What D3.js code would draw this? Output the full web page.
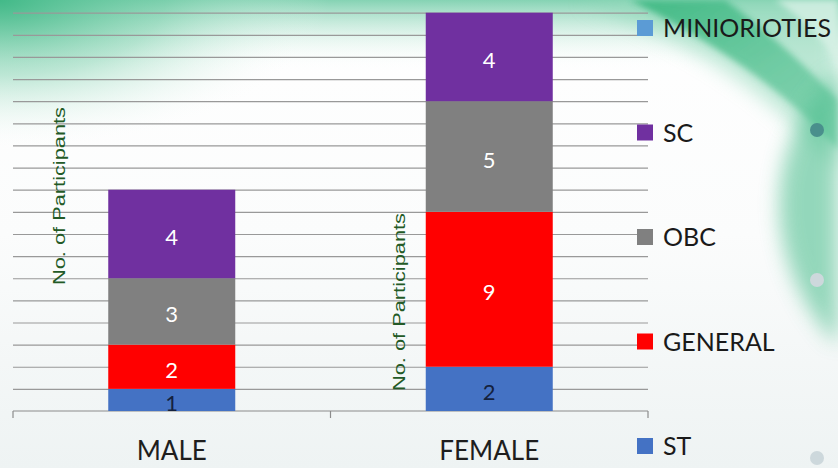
<!DOCTYPE html>
<html>
<head>
<meta charset="utf-8">
<script src="https://cdn.jsdelivr.net/npm/d3@7"></script>
<style>
  html, body { margin: 0; padding: 0; background: #ffffff; }
  svg { display: block; }
</style>
</head>
<body>
<svg id="chart" width="838" height="468"></svg>
<script>
// ---------------- data ----------------
const categories = ["MALE", "FEMALE"];
const seriesNames = ["ST", "GENERAL", "OBC", "SC", "MINIORIOTIES"];
const stValues = [1, 2];
const generalValues = [2, 7];        // bar heights as drawn in the picture
const obcValues = [3, 5];
const scValues = [4, 4];
const minoritiesValues = [0, 0];
const generalLabels = [2, 9];        // data labels printed on the bars
const legendOrder = ["MINIORIOTIES", "SC", "OBC", "GENERAL", "ST"];
const axisTitle = "No. of Participants";
const yMax = 18;

const colors = {
  ST: "#4472c4",
  GENERAL: "#ff0000",
  OBC: "#808080",
  SC: "#7030a0",
  MINIORIOTIES: "#5b9bd5"
};
const labelColors = { ST: "#14213d", GENERAL: "#ffffff", OBC: "#ffffff", SC: "#ffffff", MINIORIOTIES: "#ffffff" };

const valuesBySeries = {
  ST: stValues, GENERAL: generalValues, OBC: obcValues, SC: scValues, MINIORIOTIES: minoritiesValues
};
const labelsBySeries = {
  ST: stValues, GENERAL: generalLabels, OBC: obcValues, SC: scValues, MINIORIOTIES: minoritiesValues
};

const rows = categories.map((c, i) => {
  const r = { category: c, index: i };
  seriesNames.forEach(s => r[s] = valuesBySeries[s][i]);
  return r;
});

// ---------------- svg & background ----------------
const svg = d3.select("#chart");
const W = 838, H = 468;
const defs = svg.append("defs");

const baseGrad = defs.append("linearGradient").attr("id", "base").attr("x1", 0).attr("y1", 0).attr("x2", 0).attr("y2", 1);
baseGrad.append("stop").attr("offset", "0").attr("stop-color", "#ffffff");
baseGrad.append("stop").attr("offset", "0.5").attr("stop-color", "#fbfcfc");
baseGrad.append("stop").attr("offset", "1").attr("stop-color", "#eef3f3");

const tlGrad = defs.append("radialGradient").attr("id", "tl").attr("cx", 0).attr("cy", 0).attr("r", 1)
  .attr("gradientUnits", "userSpaceOnUse").attr("gradientTransform", "translate(0,0) scale(330,150)");
tlGrad.append("stop").attr("offset", "0").attr("stop-color", "#3fb886").attr("stop-opacity", 0.95);
tlGrad.append("stop").attr("offset", "0.5").attr("stop-color", "#6ccaa2").attr("stop-opacity", 0.45);
tlGrad.append("stop").attr("offset", "1").attr("stop-color", "#ffffff").attr("stop-opacity", 0);

const topGrad = defs.append("linearGradient").attr("id", "topband").attr("x1", 0).attr("y1", 0).attr("x2", 0).attr("y2", 1);
topGrad.append("stop").attr("offset", "0").attr("stop-color", "#5cc49a").attr("stop-opacity", 0.75);
topGrad.append("stop").attr("offset", "1").attr("stop-color", "#ffffff").attr("stop-opacity", 0);

const swGrad = defs.append("linearGradient").attr("id", "sw").attr("x1", 0).attr("y1", 0).attr("x2", 1).attr("y2", 1);
swGrad.append("stop").attr("offset", "0").attr("stop-color", "#34b57c").attr("stop-opacity", 0.95);
swGrad.append("stop").attr("offset", "1").attr("stop-color", "#6ccaa2").attr("stop-opacity", 0.7);

const blur = defs.append("filter").attr("id", "blur").attr("x", "-50%").attr("y", "-50%").attr("width", "200%").attr("height", "200%");
blur.append("feGaussianBlur").attr("stdDeviation", 10);
const blur2 = defs.append("filter").attr("id", "blur2").attr("x", "-50%").attr("y", "-50%").attr("width", "200%").attr("height", "200%");
blur2.append("feGaussianBlur").attr("stdDeviation", 3);

const bg = svg.append("g").attr("class", "background");
bg.append("rect").attr("width", W).attr("height", H).attr("fill", "url(#base)");
bg.append("rect").attr("width", W).attr("height", 70).attr("fill", "url(#topband)");
bg.append("rect").attr("width", W).attr("height", H).attr("fill", "url(#tl)");
// right swoosh
bg.append("path").attr("d", "M580,0 C690,40 770,90 838,170 L838,0 Z")
  .attr("fill", "#8fd8b8").attr("opacity", 0.6).attr("filter", "url(#blur)");
bg.append("path").attr("d", "M630,0 C720,45 790,95 838,150 L838,100 C800,60 760,25 725,0 Z")
  .attr("fill", "url(#sw)").attr("opacity", 0.9).attr("filter", "url(#blur2)");
bg.append("path").attr("d", "M838,70 C755,150 765,270 838,345 Z")
  .attr("fill", "#4fbf90").attr("opacity", 0.6).attr("filter", "url(#blur)");
bg.append("path").attr("d", "M838,0 L775,0 C805,20 828,45 838,65 Z")
  .attr("fill", "#d8f1e6").attr("opacity", 0.8).attr("filter", "url(#blur2)");
// decorative dots
[[817, 130, "#4a8f8c"], [817, 280, "#cdd8dc"], [817, 458, "#cdd8dc"]].forEach(d => {
  bg.append("circle").attr("cx", d[0]).attr("cy", d[1]).attr("r", 7).attr("fill", d[2]);
});

// ---------------- scales ----------------
const plot = { left: 13, right: 648, top: 12.7, bottom: 411 };
const x = d3.scaleBand().domain(categories).range([plot.left, plot.right]).paddingInner(0.6).paddingOuter(0.3);
const y = d3.scaleLinear().domain([0, yMax]).range([plot.bottom, plot.top]);

// gridlines
svg.append("g")
  .attr("transform", `translate(${plot.left},0)`)
  .call(d3.axisLeft(y).ticks(yMax).tickSize(-(plot.right - plot.left)).tickFormat(""))
  .call(g => g.select(".domain").remove())
  .call(g => g.selectAll(".tick line").attr("stroke", "#999999").attr("stroke-width", 1.2))
  .call(g => g.selectAll(".tick").filter(d => d === 0).remove());

// bottom axis with boundary ticks
const axisG = svg.append("g").attr("class", "x-axis");
axisG.append("line").attr("x1", plot.left).attr("x2", plot.right)
  .attr("y1", y(0)).attr("y2", y(0)).attr("stroke", "#8c8c8c").attr("stroke-width", 1.2);
d3.range(categories.length + 1).forEach(i => {
  const xx = plot.left + i * x.step();
  axisG.append("line").attr("x1", xx).attr("x2", xx).attr("y1", y(0)).attr("y2", y(0) + 7)
    .attr("stroke", "#8c8c8c").attr("stroke-width", 1.2);
});
axisG.selectAll("text.cat").data(categories).join("text")
  .attr("class", "cat")
  .attr("x", d => x(d) + x.bandwidth() / 2)
  .attr("y", 460)
  .attr("text-anchor", "middle")
  .attr("font-family", "Lato, 'Open Sans', sans-serif")
  .attr("font-size", 26)
  .attr("fill", "#1e1e1e")
  .text(d => d);

// ---------------- stacked bars ----------------
const stack = d3.stack().keys(seriesNames);
const stacked = stack(rows);

const layers = svg.append("g").selectAll("g.layer").data(stacked).join("g")
  .attr("class", "layer")
  .attr("fill", d => colors[d.key]);

layers.selectAll("rect").data(d => d.map(p => ({ key: d.key, p })).filter(o => o.p[1] > o.p[0])).join("rect")
  .attr("x", o => x(o.p.data.category))
  .attr("width", x.bandwidth())
  .attr("y", o => y(o.p[1]))
  .attr("height", o => y(o.p[0]) - y(o.p[1]));

layers.selectAll("text").data(d => d.map(p => ({ key: d.key, p })).filter(o => o.p[1] > o.p[0])).join("text")
  .attr("x", o => x(o.p.data.category) + x.bandwidth() / 2)
  .attr("y", o => (y(o.p[0]) + y(o.p[1])) / 2 + 11)
  .attr("text-anchor", "middle")
  .attr("font-family", "Lato, 'Open Sans', sans-serif")
  .attr("font-size", 22)
  .attr("fill", o => labelColors[o.key])
  .text(o => labelsBySeries[o.key][o.p.data.index]);

// ---------------- axis titles ----------------
[[59, 196], [399, 302]].forEach(pos => {
  svg.append("text")
    .attr("transform", `translate(${pos[0] + 6},${pos[1]}) rotate(-90)`)
    .attr("text-anchor", "middle")
    .attr("font-family", "'Liberation Sans', Arial, sans-serif")
    .attr("font-size", 17)
    .attr("textLength", 178)
    .attr("lengthAdjust", "spacingAndGlyphs")
    .attr("fill", "#235a26")
    .text(axisTitle);
});

// ---------------- legend ----------------
const legendY = d3.scalePoint().domain(legendOrder).range([28, 446]);
const legend = svg.append("g").selectAll("g").data(legendOrder).join("g")
  .attr("transform", d => `translate(637,${legendY(d)})`);
legend.append("rect").attr("x", 0).attr("y", -8).attr("width", 16).attr("height", 16)
  .attr("fill", d => colors[d]);
legend.append("text").attr("x", 26).attr("y", 9)
  .attr("font-family", "Lato, 'Open Sans', sans-serif")
  .attr("font-size", 25)
  .attr("fill", "#1a1a1a")
  .text(d => d);
</script>
</body>
</html>
